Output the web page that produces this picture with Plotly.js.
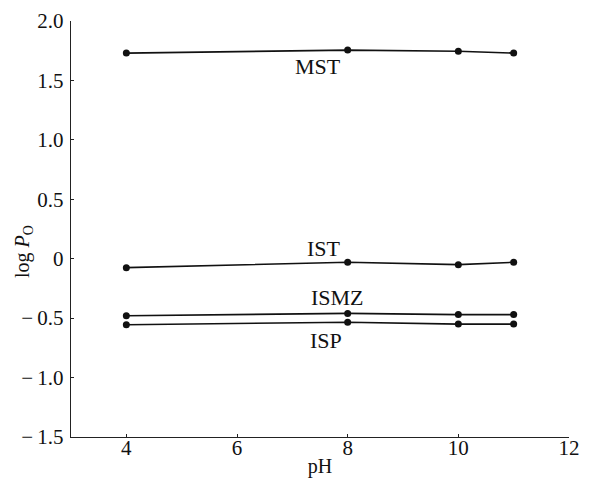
<!DOCTYPE html>
<html>
<head>
<meta charset="utf-8">
<script src="https://cdn.plot.ly/plotly-3.0.1.min.js"></script>
<style>html,body{margin:0;padding:0;background:#fff;}#chart{width:610px;height:481px;}</style>
</head>
<body>
<div id="chart"></div>
<script>
var pH = [4, 8, 10, 11];
var seriesNames = ["MST", "IST", "ISMZ", "ISP"];
var MST = [1.73, 1.755, 1.745, 1.73];
var IST = [-0.075, -0.03, -0.05, -0.03];
var ISMZ = [-0.48, -0.46, -0.47, -0.47];
var ISP = [-0.555, -0.535, -0.55, -0.55];
var xTicks = [4, 6, 8, 10, 12];
var yTicks = [-1.5, -1.0, -0.5, 0, 0.5, 1.0, 1.5, 2.0];
var yTickText = ["\u2212\u20091.5", "\u2212\u20091.0", "\u2212\u20090.5", "0", "0.5", "1.0", "1.5", "2.0"];

var allY = [MST, IST, ISMZ, ISP];
var traces = allY.map(function (ys, i) {
  return {
    x: pH, y: ys, name: seriesNames[i], type: "scatter", mode: "lines+markers",
    line: {color: "#111", width: 1.6},
    marker: {color: "#111", size: 7},
    showlegend: false
  };
});

var font = "Liberation Serif, Times New Roman, Tinos, DejaVu Serif, serif";
var layout = {
  width: 610, height: 481,
  margin: {l: 71, r: 41, t: 21, b: 44},
  paper_bgcolor: "#fff", plot_bgcolor: "#fff",
  font: {family: font, color: "#111", size: 20},
  xaxis: {
    range: [3, 12], tickvals: xTicks, ticktext: xTicks.map(String),
    showgrid: false, zeroline: false, showline: true, linecolor: "#222", linewidth: 1.3,
    ticks: "inside", ticklen: 3, tickcolor: "#222", ticklabelstandoff: -9,
    tickfont: {size: 21, family: font},
    title: {text: "pH", font: {size: 20, family: font}, standoff: 0}
  },
  yaxis: {
    range: [-1.5, 2.0], tickvals: yTicks, ticktext: yTickText,
    showgrid: false, zeroline: false, showline: true, linecolor: "#222", linewidth: 1.3,
    ticks: "inside", ticklen: 3, tickcolor: "#222", ticklabelstandoff: 2,
    tickfont: {size: 21, family: font}
  },
  annotations: [
    {text: "MST", x: 7.46, y: 1.614},
    {text: "IST", x: 7.58, y: 0.083},
    {text: "ISMZ", x: 7.82, y: -0.33},
    {text: "ISP", x: 7.61, y: -0.685}
  ].map(function (a) {
    return {text: a.text, x: a.x, y: a.y, xref: "x", yref: "y", showarrow: false,
      font: {size: 22, family: font, color: "#111"}};
  }).concat([{
    text: "log <i>P</i><sub>O</sub>", xref: "paper", yref: "paper",
    x: -0.0964, y: 0.447, xanchor: "center", yanchor: "middle",
    textangle: -90, showarrow: false, font: {size: 20, family: font, color: "#111"}
  }])
};

Plotly.newPlot("chart", traces, layout, {displayModeBar: false, staticPlot: true});
</script>
</body>
</html>
